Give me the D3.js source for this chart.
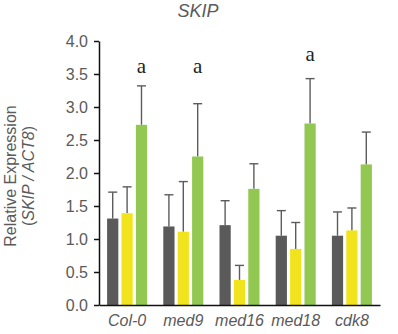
<!DOCTYPE html>
<html>
<head>
<meta charset="utf-8">
<script src="https://cdn.jsdelivr.net/npm/d3@7"></script>
<style>
  html, body { margin: 0; padding: 0; background: #ffffff; }
  svg { display: block; }
  text { font-family: "Liberation Sans", Arial, sans-serif; }
</style>
</head>
<body>
<div id="chart"></div>
<script>
// Lines (genotypes) along the x axis
const genotypes = ["Col-0", "med9", "med16", "med18", "cdk8"];
// Three conditions drawn side by side in each group
const seriesNames = ["s1", "s2", "s3"];
const seriesColors = ["#5a5a5a", "#f2e41c", "#92c852"];

// Mean relative expression per genotype, one array per condition
const meanS1 = [1.31, 1.19, 1.21, 1.05, 1.05];
const meanS2 = [1.39, 1.11, 0.38, 0.85, 1.13];
const meanS3 = [2.73, 2.25, 1.76, 2.75, 2.13];
// Upper end of each error bar (mean + SD)
const upperS1 = [1.71, 1.67, 1.58, 1.43, 1.41];
const upperS2 = [1.79, 1.87, 0.60, 1.25, 1.47];
const upperS3 = [3.32, 3.05, 2.14, 3.43, 2.62];

// Significance letters above the third bar and their heights
const sigLetters = ["a", "a", "", "a", ""];
const sigHeights = [3.51, 3.51, 0, 3.70, 0];

const yTicks = [0, 0.5, 1.0, 1.5, 2.0, 2.5, 3.0, 3.5, 4.0];

const W = 398, H = 334;
const margin = { left: 99, right: 18, top: 41, bottom: 29 };

const svg = d3.select("#chart").append("svg")
  .attr("width", W).attr("height", H);

const x0 = d3.scaleBand()
  .domain(genotypes)
  .range([margin.left, W - margin.right])
  .paddingInner(0).paddingOuter(0);

const groupWidth = 40;
const x1 = d3.scaleBand()
  .domain(seriesNames)
  .range([0, groupWidth])
  .paddingInner(0.22);

const y = d3.scaleLinear()
  .domain([0, 4])
  .range([H - margin.bottom, margin.top]);

const means = [meanS1, meanS2, meanS3];
const uppers = [upperS1, upperS2, upperS3];

const rows = [];
genotypes.forEach((g, gi) => {
  seriesNames.forEach((s, si) => {
    rows.push({ g, gi, s, si, v: means[si][gi], up: uppers[si][gi] });
  });
});

const gx = g => x0(g) + (x0.bandwidth() - groupWidth) / 2;

// Error bars (upper whisker only), drawn behind the bars
const eb = svg.append("g").attr("class", "errorbars")
  .attr("stroke", "#5c5c5c").attr("stroke-width", 1.4).attr("fill", "none");
rows.forEach(r => {
  const cx = gx(r.g) + x1(r.s) + x1.bandwidth() / 2;
  eb.append("line")
    .attr("x1", cx).attr("x2", cx)
    .attr("y1", y(r.v)).attr("y2", y(r.up));
  eb.append("line")
    .attr("x1", cx - 4.5).attr("x2", cx + 4.5)
    .attr("y1", y(r.up)).attr("y2", y(r.up));
});

// Bars
svg.append("g").attr("class", "bars")
  .selectAll("rect")
  .data(rows)
  .join("rect")
  .attr("x", r => gx(r.g) + x1(r.s))
  .attr("y", r => y(r.v))
  .attr("width", x1.bandwidth())
  .attr("height", r => y(0) - y(r.v))
  .attr("fill", r => seriesColors[r.si]);

// Y axis
const yAxis = d3.axisLeft(y)
  .tickValues(yTicks)
  .tickFormat(d3.format(".1f"))
  .tickSizeInner(5)
  .tickSizeOuter(0)
  .tickPadding(6);
const yg = svg.append("g")
  .attr("transform", `translate(${margin.left},0)`)
  .call(yAxis);
yg.select(".domain").attr("stroke", "#111").attr("stroke-width", 1.5);
yg.selectAll(".tick line").attr("stroke", "#111").attr("stroke-width", 1.5);
yg.selectAll(".tick text")
  .attr("fill", "#5a5a5a")
  .style("font-size", "16px")
  .style("font-family", "'Liberation Sans', Arial, sans-serif");

// X axis baseline (no ticks)
const xAxis = d3.axisBottom(x0).tickSize(0).tickPadding(10);
const xg = svg.append("g")
  .attr("transform", `translate(0,${y(0)})`)
  .call(xAxis);
xg.select(".domain").attr("stroke", "#111").attr("stroke-width", 1.5);
xg.selectAll(".tick text")
  .attr("fill", "#5a5a5a")
  .style("font-size", "16px")
  .style("font-style", "italic")
  .style("font-family", "'Liberation Sans', Arial, sans-serif");

// Significance letters
svg.append("g").attr("class", "letters")
  .selectAll("text")
  .data(genotypes.map((g, i) => ({ g, t: sigLetters[i], h: sigHeights[i] }))
    .filter(d => d.t))
  .join("text")
  .attr("x", d => gx(d.g) + x1("s3") + x1.bandwidth() / 2)
  .attr("y", d => y(d.h))
  .attr("text-anchor", "middle")
  .attr("fill", "#222")
  .style("font-family", "'Liberation Serif', 'Times New Roman', serif")
  .style("font-size", "21px")
  .text(d => d.t);

// Title
svg.append("text")
  .attr("x", 198)
  .attr("y", 17)
  .attr("text-anchor", "middle")
  .attr("fill", "#5a5a5a")
  .style("font-size", "18px")
  .style("font-style", "italic")
  .text("SKIP");

// Y axis title, two lines
const yMid = (y(0) + y(4)) / 2;
const yt = svg.append("text")
  .attr("transform", `translate(16,${yMid + 3}) rotate(-90)`)
  .attr("text-anchor", "middle")
  .attr("fill", "#5a5a5a")
  .style("font-size", "16px");
yt.append("tspan").attr("x", 0).attr("dy", 0).text("Relative  Expression");
const l2 = yt.append("tspan").attr("x", 0).attr("dy", 18);
l2.append("tspan").text("(");
l2.append("tspan").style("font-style", "italic").text("SKIP / ACT8");
l2.append("tspan").text(")");
</script>
</body>
</html>
